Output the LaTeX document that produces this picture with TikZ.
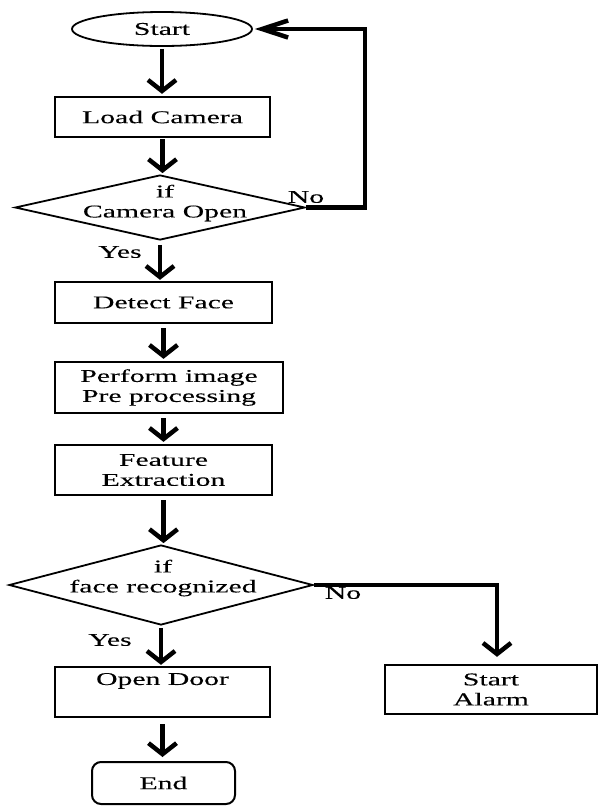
\documentclass[tikz,border=0pt]{standalone}
\usepackage{fontspec}
\setmainfont{Liberation Serif}[FakeStretch=1.65,FakeBold=0.15]
\usetikzlibrary{shapes.geometric,arrows.meta}
\begin{document}
\begin{tikzpicture}[x=1pt,y=-1pt,
  every node/.style={font=\fontsize{18}{20}\selectfont, inner sep=0pt},
  box/.style={draw, rectangle, line width=2.3pt},
  oval/.style={draw, ellipse, line width=1.8pt},
  dia/.style={draw, diamond, line width=1.8pt},
  term/.style={draw, rectangle, rounded corners=9pt, line width=2pt},
  conn/.style={line width=4.5pt, -{Straight Barb[length=11pt,width=28pt]}},
  hconn/.style={line width=4.5pt, -{Straight Barb[length=26pt,width=17pt]}}]
\fill[white] (0,0) rectangle (598,807);
\useasboundingbox (0,0) rectangle (598,807);

\node[oval, minimum width=180pt, minimum height=34pt] (start) at (162,29) {Start};
\node[box, minimum width=215pt, minimum height=40pt] (load) at (162.5,117) {Load Camera};
\node[dia, minimum width=290pt, minimum height=65pt] (cam) at (160,207.5) {};
\node[align=center] (camtxt) at (165,203) {if\\Camera Open};
\node (no1) at (306,197) {No};
\node (yes1) at (120,252) {Yes};
\node[box, minimum width=217pt, minimum height=41pt] (detect) at (163.5,302.5) {Detect Face};
\node[box, align=center, minimum width=228pt, minimum height=51pt] (perform) at (169,387.5) {Perform image\\Pre processing};
\node[box, align=center, minimum width=217pt, minimum height=50pt] (feature) at (163.5,470) {Feature\\Extraction};
\node[dia, minimum width=304pt, minimum height=80pt] (face) at (161,585) {};
\node[align=center] (facetxt) at (163,578) {if\\face recognized};
\node (no2) at (343,593) {No};
\node (yes2) at (110,640) {Yes};
\node[box, align=center, minimum width=215pt, minimum height=50pt] (door) at (162.5,692) {Open Door\\\strut};
\node[box, align=center, minimum width=212pt, minimum height=49pt] (alarm) at (491,689.5) {Start\\Alarm};
\node[term, minimum width=143pt, minimum height=42pt] (end) at (163.5,783) {End};

\coordinate (c1) at (365,207.5);
\coordinate (c2) at (365,29);
\coordinate (c3) at (497,585);

\draw[conn, shorten <=2pt, shorten >=2pt] (start.south) -- (start.south |- load.north);
\draw[conn, shorten <=1pt, shorten >=1pt] (load.south) -- (load.south |- cam.north);
\draw[conn, shorten <=4pt, shorten >=1pt] (cam.south) -- (cam.south |- detect.north);
\draw[conn, shorten <=4pt, shorten >=2pt] (detect.south) -- (detect.south |- perform.north);
\draw[conn, shorten <=4pt, shorten >=2pt] (perform.south -| detect.south) -- (detect.south |- feature.north);
\draw[conn, shorten <=4pt, shorten >=1pt] (feature.south) -- (feature.south |- face.north);
\draw[conn, shorten <=2pt, shorten >=1pt] (face.south) -- (face.south |- door.north);
\draw[conn, shorten <=6pt, shorten >=4pt] (door.south) -- (door.south |- end.north);
\draw[hconn, line join=miter, shorten >=2pt] (cam.east) -- (c1) -- (c2) -- (start.east);
\draw[conn, line join=miter, shorten >=7pt] (face.east) -- (c3) -- (c3 |- alarm.north);
\end{tikzpicture}
\end{document}
